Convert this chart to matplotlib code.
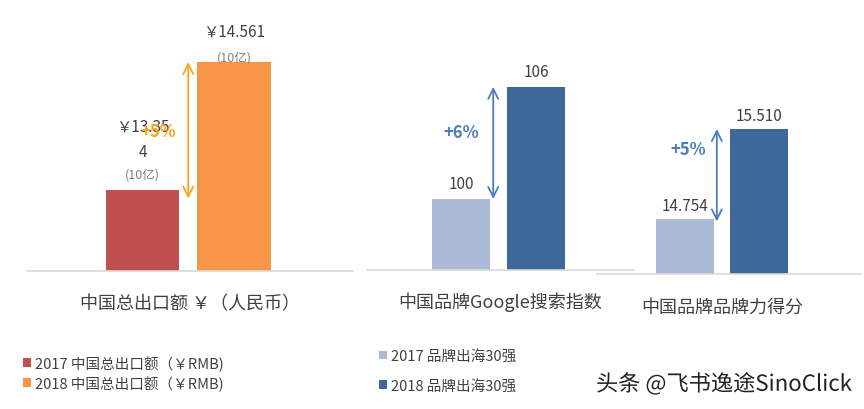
import matplotlib.pyplot as plt
import matplotlib.patheffects as pe

plt.rcParams['font.family'] = ['Noto Sans CJK SC', 'DejaVu Sans']

# panel 1: export totals (10亿 RMB)
export_years = ['2017 中国总出口额（￥RMB)', '2018 中国总出口额（￥RMB)']
export_values = [13.354, 14.561]
export_labels = ['￥13.35\n4', '￥14.561']
export_change = '+5%'

# panel 2: google search index
search_values = [100, 106]
search_labels = ['100', '106']
search_change = '+6%'

# panel 3: brand strength score
brand_values = [14.754, 15.510]
brand_labels = ['14.754', '15.510']
brand_change = '+5%'

brand_years = ['2017 品牌出海30强', '2018 品牌出海30强']

titles = ['中国总出口额 ￥（人民币）', '中国品牌Google搜索指数', '中国品牌品牌力得分']

W, H = 864, 410


def box(l, r, top, bottom):
    return [l / W, 1 - bottom / H, (r - l) / W, (bottom - top) / H]


fig = plt.figure(figsize=(W / 100, H / 100), dpi=100)

red, orange = '#C0504D', '#F79646'
light, dark = '#A9B9D6', '#3E6899'
arrow_orange = '#FFA21C'
arrow_blue = '#4A7EBB'
text_c = '#404040'


def setup(ax, xlim, ylim):
    ax.set_xlim(*xlim)
    ax.set_ylim(*ylim)
    ax.patch.set_alpha(0)
    for s in ['top', 'left', 'right']:
        ax.spines[s].set_visible(False)
    ax.spines['bottom'].set_color('#D9D9D9')
    ax.spines['bottom'].set_linewidth(1.2)
    ax.set_xticks([])
    ax.set_yticks([])


def arrow(ax, x, v0, v1, color):
    ax.annotate('', xy=(x, v1), xytext=(x, v0),
                arrowprops=dict(arrowstyle='<->', color=color, lw=1.3,
                                mutation_scale=18, shrinkA=0, shrinkB=0))


# ---- panel 1
ax1 = fig.add_axes(box(27, 353, 0, 272))
setup(ax1, (-1.262, 2.3), (12.59, 15.156))
bars1 = ax1.bar([0, 1], export_values, width=0.8, color=[red, orange])
ax1.annotate(export_labels[0], (0, export_values[0]), xytext=(0, 51),
             textcoords='offset pixels', ha='center', va='center',
             fontsize=11, color=text_c, linespacing=1.65)
ax1.annotate('(10亿)', (0, export_values[0]), xytext=(0, 16),
             textcoords='offset pixels', ha='center', va='center',
             fontsize=9, color='#808080')
ax1.annotate(export_labels[1], (1, export_values[1]), xytext=(0, 31),
             textcoords='offset pixels', ha='center', va='center',
             fontsize=11, color=text_c)
ax1.annotate('(10亿)', (1, export_values[1]), xytext=(0, 5),
             textcoords='offset pixels', ha='center', va='center',
             fontsize=9, color='#808080')
arrow(ax1, 0.5, export_values[0] - 0.08, export_values[1], arrow_orange)
ax1.text(0.17, 13.91, export_change, ha='center', va='center',
         fontsize=12, fontweight='bold', color=arrow_orange)

# ---- panel 2
ax2 = fig.add_axes(box(367, 634, 0, 271))
setup(ax2, (-1.253, 2.307), (96.2, 110.7))
ax2.bar([0, 1], search_values, width=0.775, color=[light, dark])
for i, (v, lab) in enumerate(zip(search_values, search_labels)):
    ax2.annotate(lab, (i, v), xytext=(0, 15), textcoords='offset pixels',
                 ha='center', va='center', fontsize=11, color=text_c)
arrow(ax2, 0.43, search_values[0], search_values[1], arrow_blue)
ax2.text(0.0, 103.6, search_change, ha='center', va='center',
         fontsize=12, fontweight='bold', color=arrow_blue)

# ---- panel 3
ax3 = fig.add_axes(box(597, 861, 0, 275))
setup(ax3, (-1.189, 2.378), (14.292, 16.603))
bars3 = ax3.bar([0, 1], brand_values, width=0.785, color=[light, dark])
for i, (v, lab) in enumerate(zip(brand_values, brand_labels)):
    ax3.annotate(lab, (i, v), xytext=(0, 14), textcoords='offset pixels',
                 ha='center', va='center', fontsize=11, color=text_c)
arrow(ax3, 0.43, brand_values[0] - 0.02, brand_values[1], arrow_blue)
ax3.text(0.04, 15.34, brand_change, ha='center', va='center',
         fontsize=12, fontweight='bold', color=arrow_blue)

# category titles
for x, y, t in zip([190, 500, 722], [304, 302, 308], titles):
    fig.text(x / W, 1 - y / H, t, ha='center', va='center',
             fontsize=13, color=text_c)

# legends
fig.legend(bars1.patches, export_years, loc='upper left',
           bbox_to_anchor=(10 / W, 1 - 343 / H), frameon=False,
           fontsize=10.5, handlelength=0.55, handleheight=0.55,
           handletextpad=0.25, labelspacing=0.3, labelcolor=text_c)
fig.legend(bars3.patches, brand_years, loc='upper left',
           bbox_to_anchor=(366 / W, 1 - 337 / H), frameon=False,
           fontsize=10.5, handlelength=0.55, handleheight=0.55,
           handletextpad=0.25, labelspacing=1.05, labelcolor=text_c)

# watermark
fig.text(852 / W, 1 - 385 / H, '头条 @飞书逸途SinoClick', ha='right',
         va='center', fontsize=16, color='#222222',
         path_effects=[pe.withStroke(linewidth=2, foreground='white')])

fig.savefig('out.png', dpi=100, facecolor='white')
